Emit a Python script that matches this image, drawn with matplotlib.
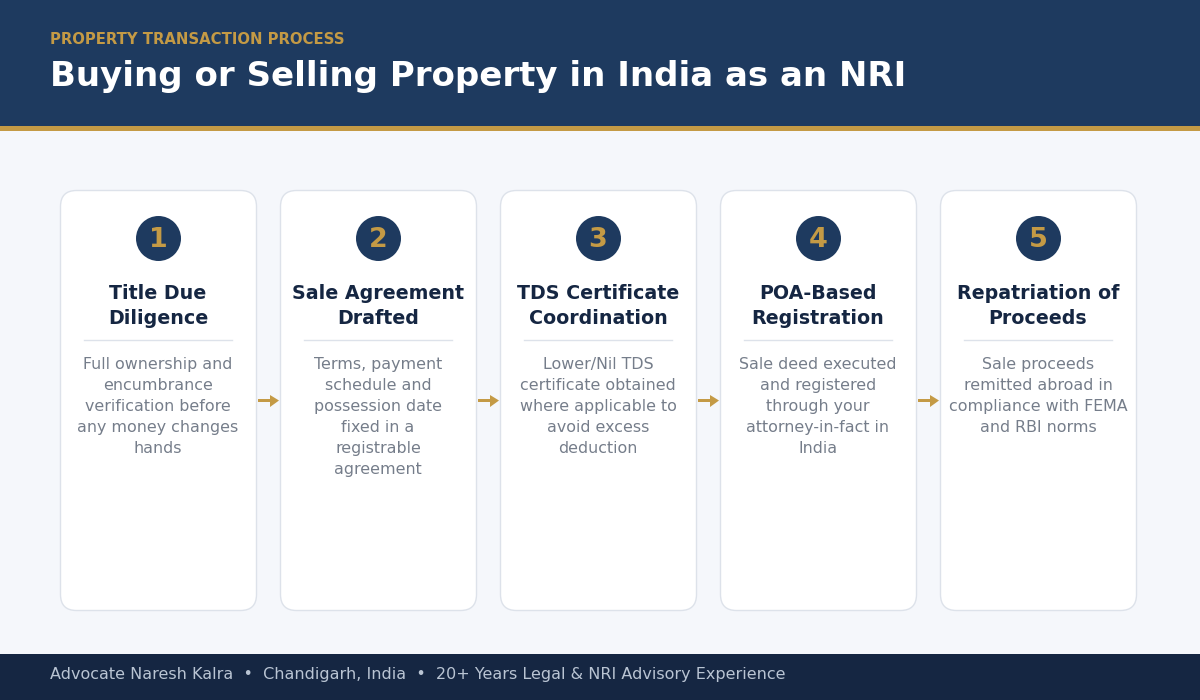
import matplotlib
matplotlib.use('Agg')
import matplotlib.pyplot as plt
from matplotlib.patches import FancyBboxPatch, Circle, Rectangle, Polygon

plt.rcParams['font.family'] = ['DejaVu Sans']

eyebrow = 'PROPERTY TRANSACTION PROCESS'
heading = 'Buying or Selling Property in India as an NRI'
footer = 'Advocate Naresh Kalra  \u2022  Chandigarh, India  \u2022  20+ Years Legal & NRI Advisory Experience'
step_numbers = ['1', '2', '3', '4', '5']
step_titles = [
    ['Title Due', 'Diligence'],
    ['Sale Agreement', 'Drafted'],
    ['TDS Certificate', 'Coordination'],
    ['POA-Based', 'Registration'],
    ['Repatriation of', 'Proceeds'],
]
step_texts = [
    ['Full ownership and', 'encumbrance', 'verification before', 'any money changes', 'hands'],
    ['Terms, payment', 'schedule and', 'possession date', 'fixed in a', 'registrable', 'agreement'],
    ['Lower/Nil TDS', 'certificate obtained', 'where applicable to', 'avoid excess', 'deduction'],
    ['Sale deed executed', 'and registered', 'through your', 'attorney-in-fact in', 'India'],
    ['Sale proceeds', 'remitted abroad in', 'compliance with FEMA', 'and RBI norms'],
]

NAVY = '#1e3a5f'
DARK = '#152642'
GOLD = '#c49a45'
BG = '#f5f7fb'
BORDER = '#dde2ea'
GREY = '#757d8a'


def px(size):
    # css px to points at dpi 100
    return size * 0.72


fig = plt.figure(figsize=(12, 7), dpi=100, facecolor=BG)
ax = fig.add_axes([0, 0, 1, 1])
ax.set_xlim(0, 1200)
ax.set_ylim(700, 0)
ax.axis('off')

ax.add_patch(Rectangle((0, 0), 1200, 126, fc=NAVY, ec='none'))
ax.add_patch(Rectangle((0, 126), 1200, 5, fc=GOLD, ec='none'))
ax.add_patch(Rectangle((0, 654), 1200, 46, fc=DARK, ec='none'))

ax.text(50, 44, eyebrow, color=GOLD, fontsize=px(14.93), fontweight='bold', va='baseline')
ax.text(50, 86, heading, color='white', fontsize=px(34), fontweight='bold', va='baseline')
ax.text(50, 679, footer, color='#b9c4d3', fontsize=px(15.97), va='baseline')

for i, num in enumerate(step_numbers):
    left = 60 + i * 220
    mid = left + 98
    ax.add_patch(FancyBboxPatch((left + 0.5, 190.5), 196, 420,
                                boxstyle='round,pad=0,rounding_size=16',
                                fc='white', ec=BORDER, lw=1))
    ax.add_patch(Circle((mid + 0.5, 238.5), 22.5, fc=NAVY, ec='none'))
    ax.text(mid, 247, num, color=GOLD, fontsize=px(27), fontweight='bold',
            ha='center', va='baseline')
    for j, line in enumerate(step_titles[i]):
        ax.text(mid, 299.4 + j * 25, line, color=DARK, fontsize=px(18.95), fontweight='bold',
                ha='center', va='baseline')
    ax.plot([mid - 74, mid + 74], [340, 340], color=BORDER, lw=1)
    for j, line in enumerate(step_texts[i]):
        ax.text(mid, 369 + j * 21, line, color=GREY, fontsize=px(15.95),
                ha='center', va='baseline')
    if i < len(step_numbers) - 1:
        ax.add_patch(Rectangle((left + 198, 399), 14, 3, fc=GOLD, ec='none'))
        ax.add_patch(Polygon([(left + 210, 395), (left + 219, 400.5), (left + 210, 407)],
                             closed=True, fc=GOLD, ec='none'))

fig.savefig('out.png', dpi=100, facecolor=BG)
